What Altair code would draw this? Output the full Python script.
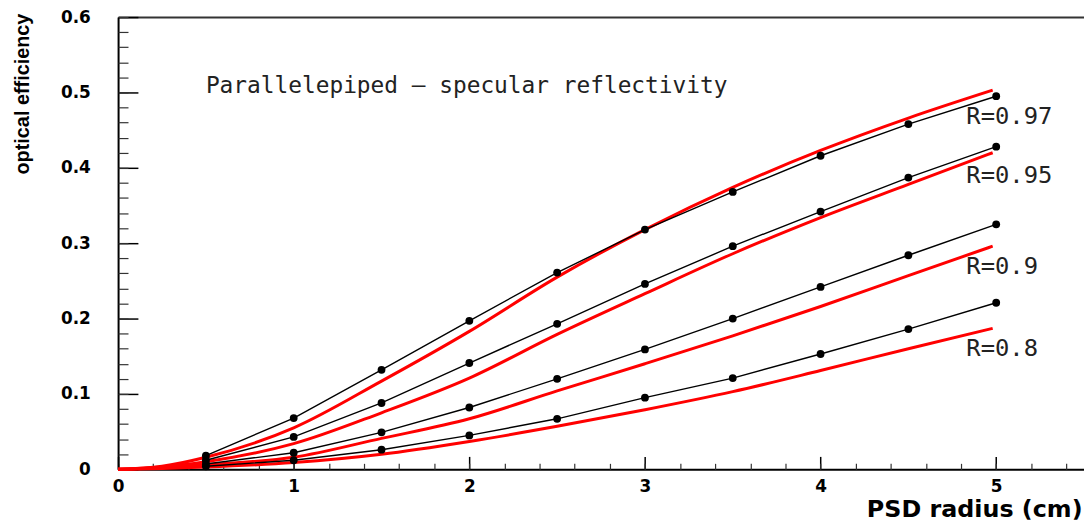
import altair as alt
import pandas as pd

# ---- data ----
series = ["R=0.97", "R=0.95", "R=0.9", "R=0.8"]

# simulated points (black)
x_black = [0.5, 1.0, 1.5, 2.0, 2.5, 3.0, 3.5, 4.0, 4.5, 5.0]
black_097 = [0.018, 0.068, 0.132, 0.197, 0.261, 0.318, 0.368, 0.416, 0.458, 0.495]
black_095 = [0.012, 0.043, 0.088, 0.141, 0.193, 0.246, 0.296, 0.342, 0.387, 0.428]
black_090 = [0.007, 0.022, 0.049, 0.082, 0.120, 0.159, 0.200, 0.242, 0.284, 0.325]
black_080 = [0.004, 0.012, 0.026, 0.045, 0.067, 0.095, 0.121, 0.153, 0.186, 0.221]

# model curves (red)
x_red = [0.0, 0.25, 0.5, 1.0, 1.5, 2.0, 2.5, 3.0, 3.5, 4.0, 4.5, 4.98]
red_097 = [0.0, 0.004, 0.016, 0.055, 0.117, 0.183, 0.255, 0.318, 0.374, 0.423, 0.466, 0.503]
red_095 = [0.0, 0.003, 0.010, 0.034, 0.075, 0.121, 0.179, 0.233, 0.286, 0.334, 0.378, 0.420]
red_090 = [0.0, 0.002, 0.006, 0.016, 0.041, 0.067, 0.104, 0.140, 0.177, 0.216, 0.257, 0.296]
red_080 = [0.0, 0.001, 0.003, 0.009, 0.020, 0.037, 0.057, 0.079, 0.103, 0.131, 0.160, 0.187]

# curve labels
label_x = [4.83, 4.83, 4.83, 4.83]
label_y = [0.468, 0.389, 0.268, 0.159]

note_text = ["Parallelepiped – specular reflectivity"]
note_x = [0.50]
note_y = [0.509]

x_tick_labels = [0, 1, 2, 3, 4, 5]
y_tick_labels = [0, 0.1, 0.2, 0.3, 0.4, 0.5, 0.6]
x_minor = [round(i * 0.2, 1) for i in range(28)]
y_minor = [round(i * 0.02, 2) for i in range(31)]

# ---- tables ----
black_df = pd.DataFrame(
    [(x, y, s) for s, ys in zip(series, [black_097, black_095, black_090, black_080])
     for x, y in zip(x_black, ys)],
    columns=["x", "y", "series"],
)
red_df = pd.DataFrame(
    [(x, y, s) for s, ys in zip(series, [red_097, red_095, red_090, red_080])
     for x, y in zip(x_red, ys)],
    columns=["x", "y", "series"],
)
label_df = pd.DataFrame({"x": label_x, "y": label_y, "text": series})
note_df = pd.DataFrame({"x": note_x, "y": note_y, "text": note_text})

W, H = 974, 456
XS = alt.Scale(domain=[0, 5.5], nice=False, zero=False)
YS = alt.Scale(domain=[0, 0.6], nice=False, zero=False)

LABEL_FONT = "DejaVu Sans"

x_label_axis = alt.Axis(
    orient="bottom", values=x_tick_labels, format="d", ticks=False, grid=False,
    domain=True, domainColor="black", domainWidth=2,
    labelFont=LABEL_FONT, labelFontWeight="bold", labelFontSize=17, labelColor="black",
    labelPadding=9, labelFlush=False, labelOverlap=False,
    title="PSD radius (cm)", titleFont=LABEL_FONT, titleFontWeight="bold",
    titleFontSize=24, titleColor="black", titleAlign="right", titleAnchor="end",
    titleX=972, titleY=48, titleBaseline="alphabetic",
)
y_label_axis = alt.Axis(
    orient="left", values=y_tick_labels, format=".1~f", ticks=False, grid=False,
    domain=True, domainColor="black", domainWidth=2,
    labelFont=LABEL_FONT, labelFontWeight="bold", labelFontSize=17, labelColor="black",
    labelPadding=28, labelFlush=False, labelOverlap=False,
    title="optical efficiency", titleFont="Liberation Sans Narrow, Liberation Sans",
    titleFontWeight="bold", titleFontSize=20, titleColor="black",
    titleAngle=270, titleAlign="right", titleBaseline="top", titleX=-106, titleY=-4,
)
x_major_axis = alt.Axis(
    orient="top", offset=-H, values=x_tick_labels, ticks=True, tickSize=13,
    tickWidth=1.5, tickColor="black", labels=False, domain=False, grid=False, title=None,
)
y_major_axis = alt.Axis(
    orient="right", offset=-W, values=y_tick_labels, ticks=True, tickSize=20,
    tickWidth=1.5, tickColor="black", labels=False, domain=False, grid=False, title=None,
)
x_minor_axis = alt.Axis(
    orient="top", offset=-H, values=x_minor, ticks=True, tickSize=6,
    tickWidth=1.2, tickColor="#333333", labels=False, domain=False, grid=False, title=None,
)
y_minor_axis = alt.Axis(
    orient="right", offset=-W, values=y_minor, ticks=True, tickSize=10,
    tickWidth=1.2, tickColor="#333333", labels=False, domain=False, grid=False, title=None,
)
top_border_axis = alt.Axis(
    orient="top", ticks=False, labels=False, domain=True, domainColor="#333333",
    domainWidth=2, grid=False, title=None,
)

red = alt.Chart(red_df).mark_line(color="#ff0000", strokeWidth=3, interpolate="monotone").encode(
    x=alt.X("x:Q", scale=XS, axis=x_label_axis),
    y=alt.Y("y:Q", scale=YS, axis=y_label_axis),
    detail="series:N",
)
black = alt.Chart(black_df).mark_line(color="black", strokeWidth=1.4).encode(
    x=alt.X("x:Q", scale=XS, axis=x_major_axis),
    y=alt.Y("y:Q", scale=YS, axis=y_major_axis),
    detail="series:N",
)
pts = alt.Chart(black_df).mark_point(filled=True, color="black", opacity=1, size=62).encode(
    x=alt.X("x:Q", scale=XS, axis=x_minor_axis),
    y=alt.Y("y:Q", scale=YS, axis=y_minor_axis),
)
labels = alt.Chart(label_df).mark_text(
    font="DejaVu Sans Mono", fontSize=24, color="#222222", align="left", baseline="middle"
).encode(
    x=alt.X("x:Q", scale=XS, axis=top_border_axis),
    y=alt.Y("y:Q", scale=YS, axis=None),
    text="text:N",
)
note = alt.Chart(note_df).mark_text(
    font="DejaVu Sans Mono", fontSize=23, color="#222222", align="left", baseline="middle"
).encode(
    x=alt.X("x:Q", scale=XS, axis=None),
    y=alt.Y("y:Q", scale=YS, axis=None),
    text="text:N",
)

chart = (
    alt.layer(red, black, pts, labels, note)
    .resolve_scale(x="independent", y="independent")
    .properties(
        width=W, height=H,
        padding={"left": 111, "top": 7, "right": 0, "bottom": 53},
        autosize=alt.AutoSizeParams(type="none"),
        background="white",
    )
    .configure_view(stroke=None)
)

chart.save("out.html", embed_options={"renderer": "svg", "actions": False})
